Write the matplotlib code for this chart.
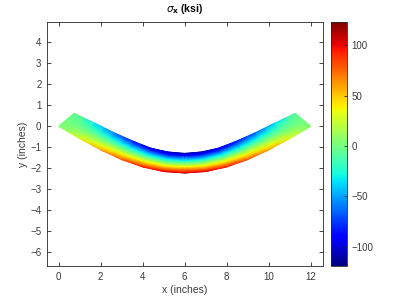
import numpy as np
import matplotlib
matplotlib.use("Agg")
import matplotlib.pyplot as plt

plt.rcParams['font.family'] = ['Liberation Sans', 'DejaVu Sans']

# Stations along the deformed beam
bottom_x = [0, 1, 2, 3, 4, 5, 6, 7, 8, 9, 10, 11, 12]
bottom_y = [0, -0.58, -1.12, -1.58, -1.93, -2.15, -2.22, -2.15, -1.93, -1.58, -1.12, -0.58, 0]
top_x = [0.73, 1.71, 2.64, 3.54, 4.39, 5.20, 6.0, 6.80, 7.61, 8.46, 9.36, 10.29, 11.27]
top_y = [0.62, 0.15, -0.31, -0.71, -1.04, -1.22, -1.29, -1.22, -1.04, -0.71, -0.31, 0.15, 0.62]
# Bending stress at bottom fibre (ksi); top fibre carries the opposite sign
sigma_bottom = [0, 33, 60, 81, 96, 105, 108, 105, 96, 81, 60, 33, 0]
sigma_top = [-v for v in sigma_bottom]

clim = (-119, 123)
xticks = [0, 2, 4, 6, 8, 10, 12]
yticks = [-6, -5, -4, -3, -2, -1, 0, 1, 2, 3, 4]
cbar_ticks = [-100, -50, 0, 50, 100]

# Build mesh through the thickness
nl = 40
f = np.linspace(0, 1, nl)[:, None]
bx, by = np.array(bottom_x, float), np.array(bottom_y, float)
tx, ty = np.array(top_x, float), np.array(top_y, float)
sb, st = np.array(sigma_bottom, float), np.array(sigma_top, float)
X = bx + f * (tx - bx)
Y = by + f * (ty - by)
C = sb + f * (st - sb)

fig = plt.figure(figsize=(3.99, 2.99), dpi=100)
ax = fig.add_axes([47/399, 33/299, 276/399, 244/299])
mesh = ax.pcolormesh(X, Y, C, cmap='jet', vmin=clim[0], vmax=clim[1],
                     shading='gouraud', rasterized=True)
ax.set_xlim(-0.56, 12.59)
ax.set_ylim(-6.65, 4.97)
ax.set_xticks(xticks)
ax.set_yticks(yticks)
gray = '#262626'
lab = '#3a3a3a'
ax.tick_params(direction='in', length=3, width=0.6, labelsize=7, colors=gray,
               labelcolor=lab, top=True, right=True, pad=4)
for sp in ax.spines.values():
    sp.set_color(gray)
    sp.set_linewidth(0.6)
ax.set_xlabel('x (inches)', fontsize=7.5, color=lab, labelpad=2.5)
ax.set_ylabel('y (inches)', fontsize=7.5, color=lab, labelpad=1.5)
ax.set_title(r'$\sigma_\mathbf{x}$ (ksi)', fontsize=7.5, fontweight='bold', color='black', pad=7)

cax = fig.add_axes([331/399, 33/299, 16/399, 244/299])
cb = fig.colorbar(mesh, cax=cax, ticks=cbar_ticks)
cb.ax.tick_params(direction='in', length=2, width=0.6, labelsize=7, colors=gray,
                  labelcolor=lab, pad=3)
cb.outline.set_edgecolor(gray)
cb.outline.set_linewidth(0.6)

fig.savefig('out.png', dpi=100)
